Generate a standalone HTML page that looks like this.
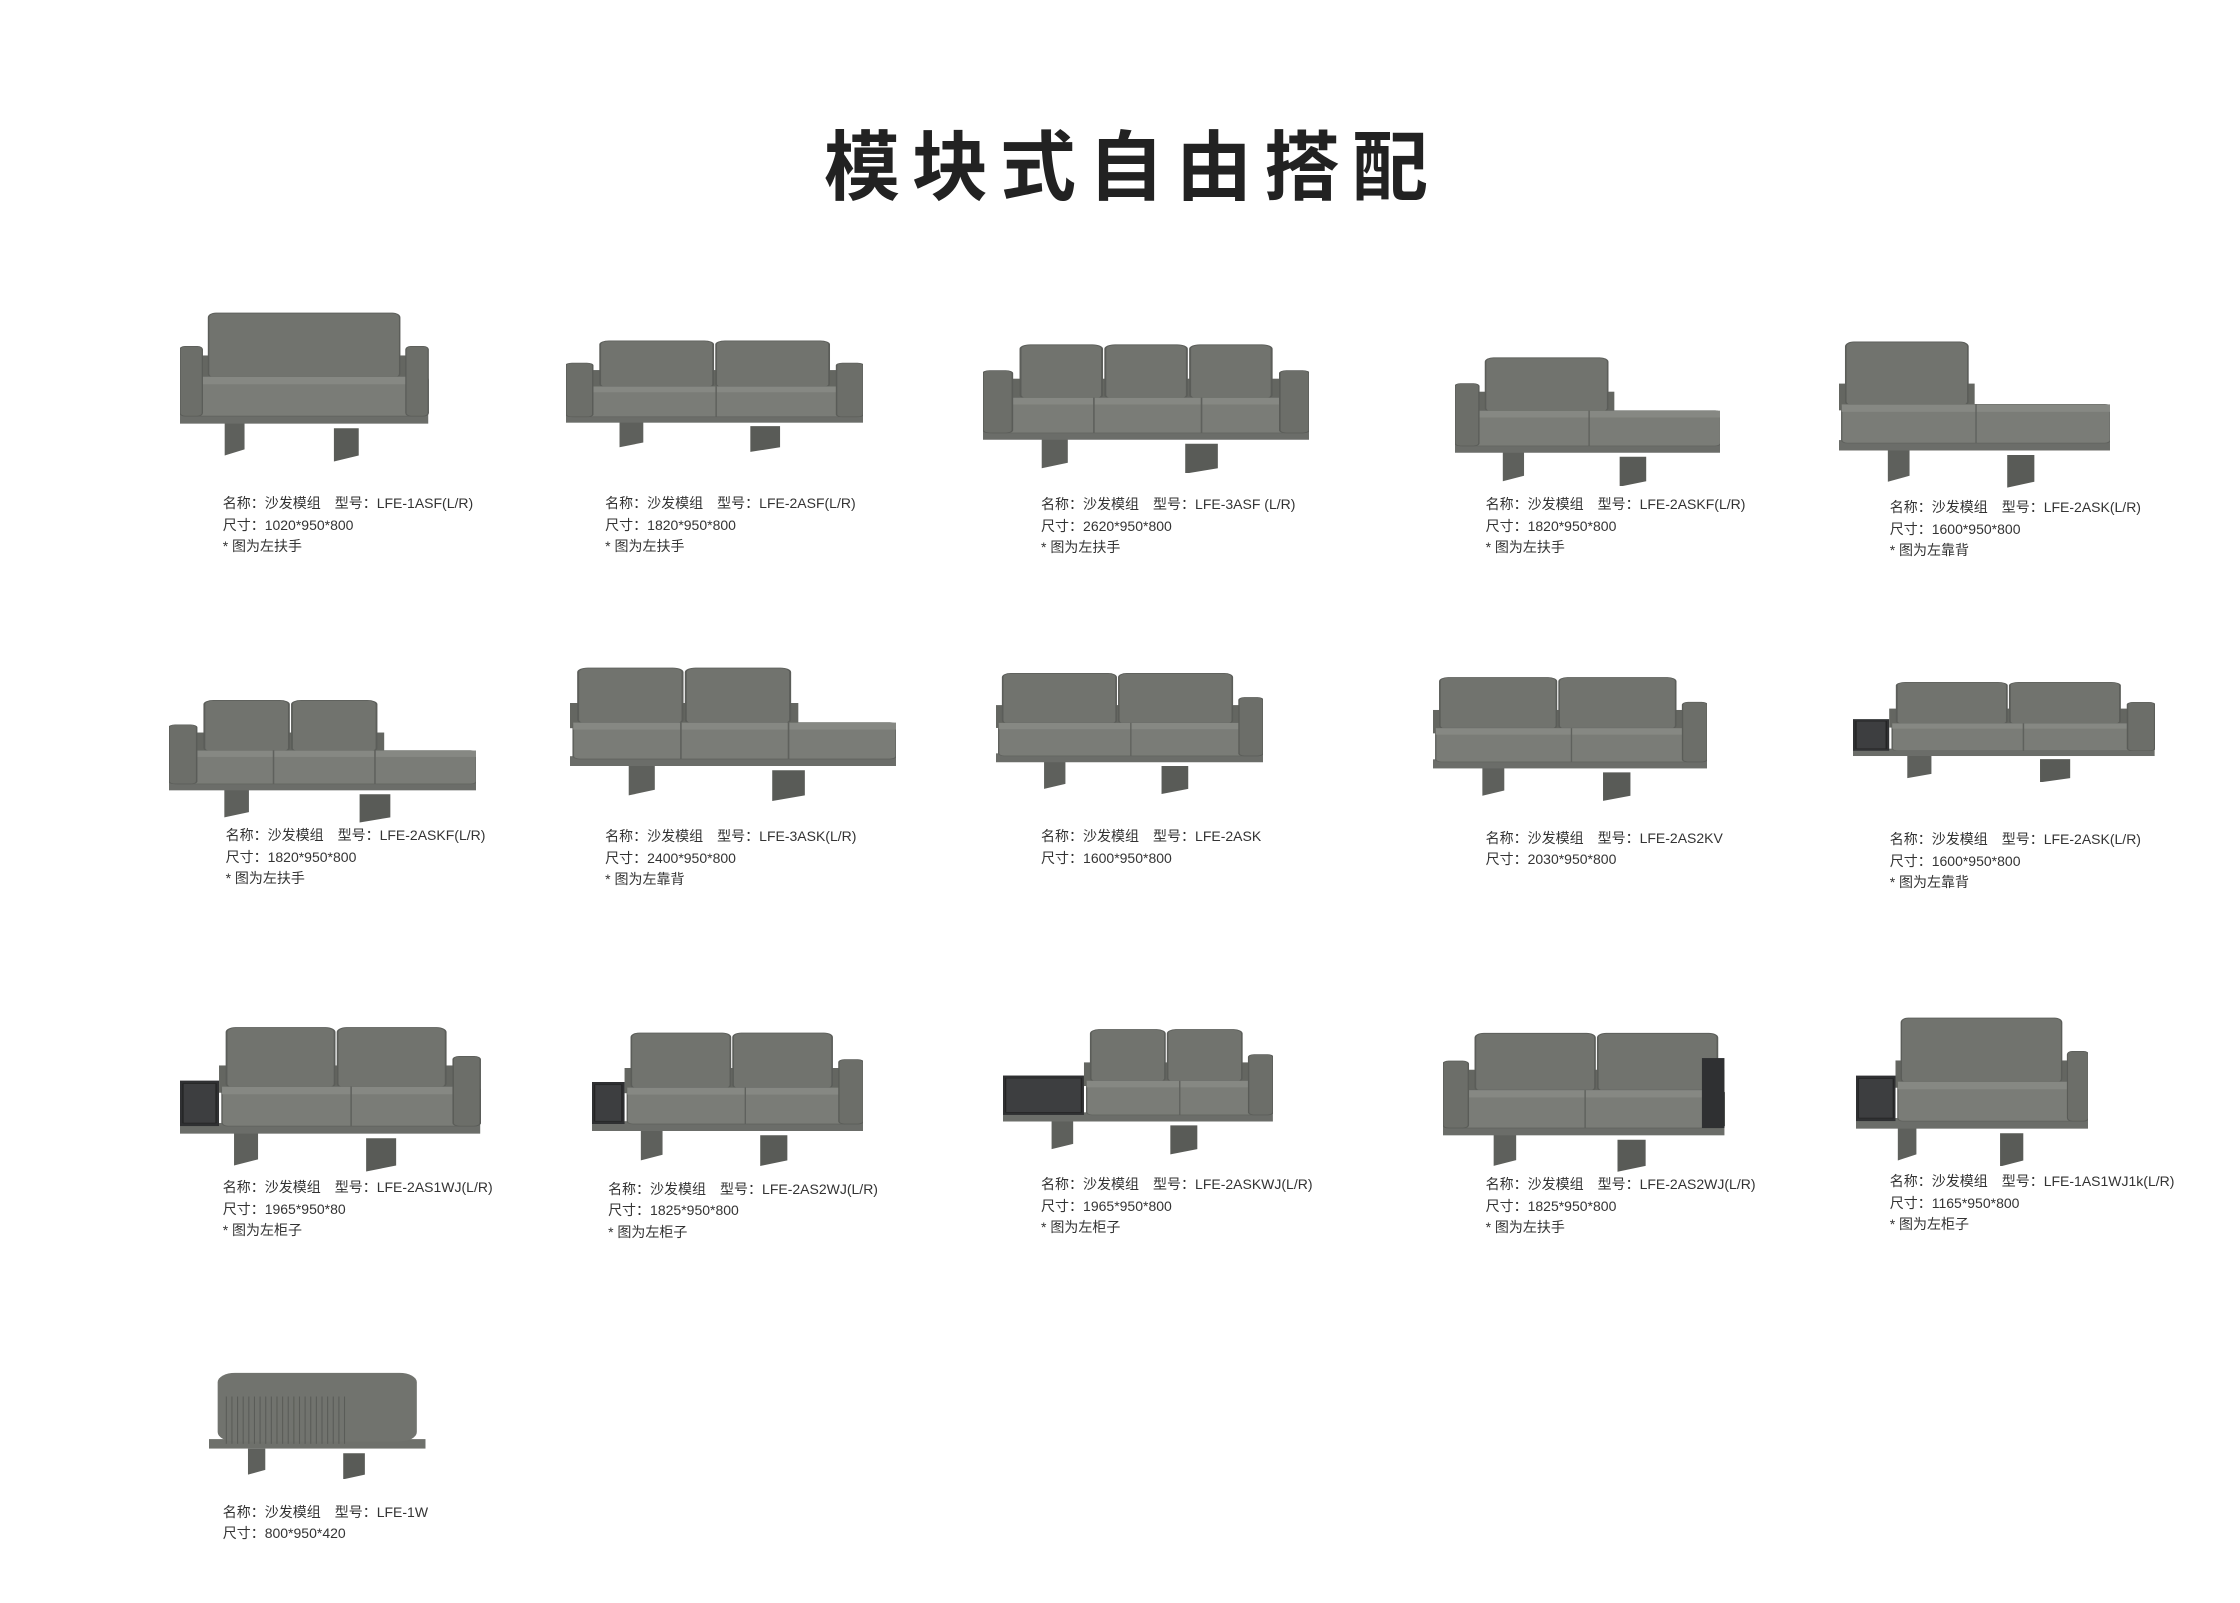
<!DOCTYPE html>
<html><head><meta charset="utf-8">
<style>
html,body{margin:0;padding:0;background:#fff;}
body{width:2240px;height:1603px;position:relative;overflow:hidden;font-family:"Liberation Sans","Noto Sans CJK SC",sans-serif;}
.title{position:absolute;left:12px;width:2240px;top:116px;text-align:center;font-family:"Noto Sans CJK SC",sans-serif;font-weight:700;font-size:76px;letter-spacing:12px;color:#222;line-height:90px;}
.lab{position:absolute;font-size:14px;line-height:21.5px;color:#333;white-space:nowrap;font-family:"Liberation Sans","Noto Sans CJK SC",sans-serif;}
svg.s{position:absolute;}
</style></head><body>
<div class="title">模块式自由搭配</div>
<div id="root"></div>
<script>
var R=document.getElementById('root');
var K=2240/1552;
function sofa(x1,y1,x2,y2,o){
 var X=x1*K,Y=y1*K,W=(x2-x1)*K,H=(y2-y1)*K;
 var s='<svg class="s" style="left:'+X+'px;top:'+Y+'px;width:'+W+'px;height:'+H+'px" viewBox="0 0 100 100" preserveAspectRatio="none">';
 s+='<polygon points="18,74 26,74 26,92 18,96" fill="#5e605c"/>';
 s+='<polygon points="62,78 72,78 72,96 62,100" fill="#595b57"/>';
 if(o.ott){
  s+='<rect x="0" y="66" width="100" height="8" fill="#6e706b"/>';
  s+='<rect x="4" y="10" width="92" height="58" rx="8" fill="#71736e"/>';
  for(var i=0;i<22;i++){s+='<line x1="'+(8+i*2.6)+'" y1="30" x2="'+(8+i*2.6)+'" y2="70" stroke="#5a5c58" stroke-width="0.5"/>';}
  return R.insertAdjacentHTML('beforeend',s+'</svg>');
 }
 s+='<rect x="0" y="68" width="100" height="7" fill="#6b6d69"/>';
 var l=o.cab?o.cab:0;
 if(o.cab){s+='<rect x="0" y="40" width="'+l+'" height="30" fill="#2f3032"/><rect x="1" y="42" width="'+(l-2)+'" height="26" fill="#3d3e40" stroke="#222" stroke-width="0.4"/>';}
 var bl=o.la?l+9:l, br=o.ra?91:100;
 s+='<rect x="'+bl+'" y="30" width="'+(br-bl-(o.chaise||0))+'" height="18" fill="#646661"/>';
 var cs=bl+2, ce=br-(o.chaise||0)-2, n=o.n, cw=(ce-cs)/n;
 for(var i=0;i<n;i++){s+='<rect x="'+(cs+i*cw+0.5)+'" y="'+(o.ct||5)+'" width="'+(cw-1)+'" height="'+(45-(o.ct||5))+'" rx="3" fill="#71736e" stroke="#5b5d59" stroke-width="0.6"/>';}
 s+='<rect x="'+(l+1)+'" y="44" width="'+(99-l)+'" height="26" rx="2" fill="#7a7c77" stroke="#5f615d" stroke-width="0.5"/>';
 s+='<rect x="'+(l+1)+'" y="44" width="'+(99-l)+'" height="5" fill="#868883"/>';
 var m=o.seats||n; var sw=(99-l)/m;
 for(var i=1;i<m;i++){s+='<line x1="'+(l+1+i*sw)+'" y1="44" x2="'+(l+1+i*sw)+'" y2="70" stroke="#5f615d" stroke-width="0.5"/>';}
 if(o.la){s+='<rect x="'+l+'" y="24" width="9" height="46" rx="2" fill="#6c6e69" stroke="#5a5c58" stroke-width="0.5"/>';}
 if(o.ra){s+='<rect x="91" y="24" width="9" height="46" rx="2" fill="#6c6e69" stroke="#5a5c58" stroke-width="0.5"/>';}
 if(o.rcab){s+='<rect x="92" y="22" width="8" height="48" fill="#2f3032"/>';}
 R.insertAdjacentHTML('beforeend',s+'</svg>');
}
function lab(dx,dy,lines){
 var d=document.createElement('div');d.className='lab';
 d.style.left=(dx*K-1)+'px';d.style.top=(dy*K-15)+'px';
 d.innerHTML=lines.join('<br>');R.appendChild(d);
}
sofa(125,215,297,320,{n:1,la:1,ra:1,ct:2});
sofa(392,232,598,313,{n:2,la:1,ra:1});
sofa(681,234,907,328,{n:3,la:1,ra:1});
sofa(1008,243,1192,337,{n:1,la:1,chaise:40,seats:2});
sofa(1274,235,1462,338,{n:1,chaise:50,seats:2,ct:2});
sofa(117,481,330,570,{n:2,la:1,chaise:30,seats:3});
sofa(395,458,621,555,{n:2,chaise:30,seats:3});
sofa(690,462,875,550,{n:2,ra:1});
sofa(993,465,1183,555,{n:2,ra:1,seats:2});
sofa(1284,469,1493,542,{n:2,cab:12,ra:1});
sofa(125,707,333,812,{n:2,cab:13,ra:1});
sofa(410,711,598,808,{n:2,cab:12,ra:1});
sofa(695,709,882,800,{n:2,cab:30,ra:1,ct:5});
sofa(1000,711,1195,812,{n:2,la:1,rcab:1});
sofa(1286,703,1447,808,{n:1,cab:17,ra:1,ct:2});
sofa(145,943,295,1025,{ott:1});

lab(155,352,['名称：沙发模组　型号：LFE-1ASF(L/R)','尺寸：1020*950*800','* 图为左扶手']);
lab(420,352,['名称：沙发模组　型号：LFE-2ASF(L/R)','尺寸：1820*950*800','* 图为左扶手']);
lab(722,353,['名称：沙发模组　型号：LFE-3ASF (L/R)','尺寸：2620*950*800','* 图为左扶手']);
lab(1030,353,['名称：沙发模组　型号：LFE-2ASKF(L/R)','尺寸：1820*950*800','* 图为左扶手']);
lab(1310,355,['名称：沙发模组　型号：LFE-2ASK(L/R)','尺寸：1600*950*800','* 图为左靠背']);
lab(157,582,['名称：沙发模组　型号：LFE-2ASKF(L/R)','尺寸：1820*950*800','* 图为左扶手']);
lab(420,583,['名称：沙发模组　型号：LFE-3ASK(L/R)','尺寸：2400*950*800','* 图为左靠背']);
lab(722,583,['名称：沙发模组　型号：LFE-2ASK','尺寸：1600*950*800']);
lab(1030,584,['名称：沙发模组　型号：LFE-2AS2KV','尺寸：2030*950*800']);
lab(1310,585,['名称：沙发模组　型号：LFE-2ASK(L/R)','尺寸：1600*950*800','* 图为左靠背']);
lab(155,826,['名称：沙发模组　型号：LFE-2AS1WJ(L/R)','尺寸：1965*950*80','* 图为左柜子']);
lab(422,827,['名称：沙发模组　型号：LFE-2AS2WJ(L/R)','尺寸：1825*950*800','* 图为左柜子']);
lab(722,824,['名称：沙发模组　型号：LFE-2ASKWJ(L/R)','尺寸：1965*950*800','* 图为左柜子']);
lab(1030,824,['名称：沙发模组　型号：LFE-2AS2WJ(L/R)','尺寸：1825*950*800','* 图为左扶手']);
lab(1310,822,['名称：沙发模组　型号：LFE-1AS1WJ1k(L/R)','尺寸：1165*950*800','* 图为左柜子']);
lab(155,1051,['名称：沙发模组　型号：LFE-1W','尺寸：800*950*420']);
</script>
</body></html>
